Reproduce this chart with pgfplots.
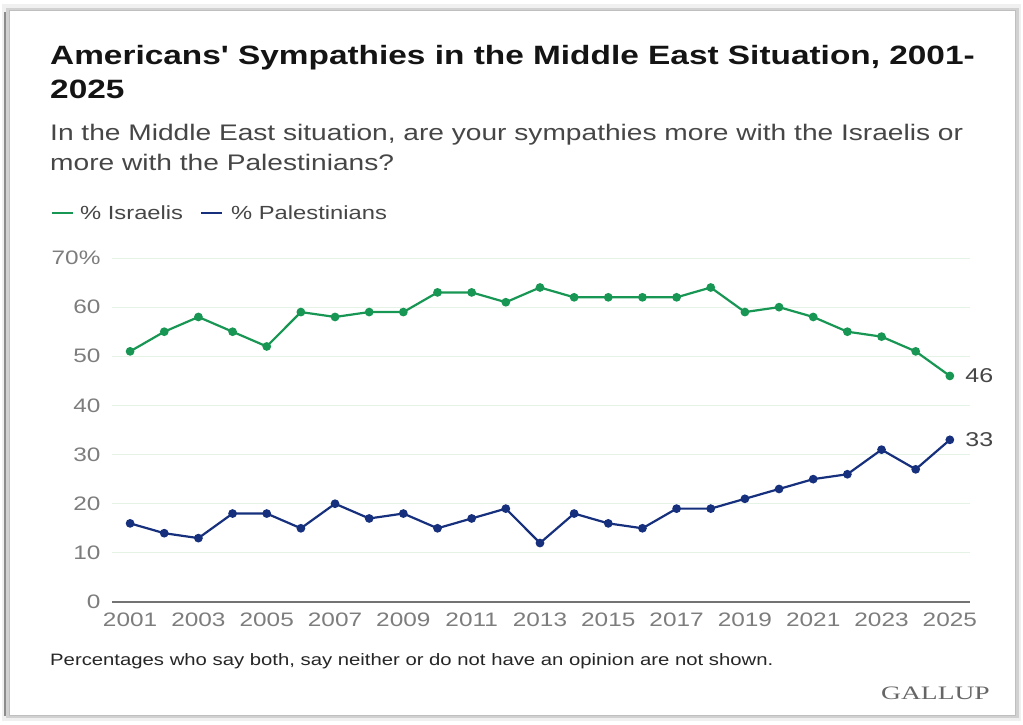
\documentclass[border=0pt]{standalone}
\usepackage{pgfplots}
\pgfplotsset{compat=1.18}
\usepackage{fontspec}
\setmainfont{Liberation Sans}[FakeStretch=1.25]
\newfontfamily\titlefont{Liberation Sans}[FakeStretch=1.26]
\newfontfamily\footfont{Liberation Sans}[FakeStretch=1.23]
\newfontfamily\gallupfont{Liberation Serif}[FakeStretch=1.45]
\definecolor{isr}{RGB}{24,150,84}
\definecolor{pal}{RGB}{22,48,125}
\definecolor{gridc}{RGB}{228,243,230}
\definecolor{ticktext}{RGB}{125,125,125}
\definecolor{subtext}{RGB}{70,70,70}
\begin{document}
\begin{tikzpicture}
\path[use as bounding box] (0pt,0pt) rectangle (1023pt,724pt);
% frame with shadow
\fill[black!6] (2pt,3pt) rectangle (1021pt,720pt);
\fill[black!45] (4pt,8pt) rectangle (12pt,712pt);
\fill[black!18] (6pt,6pt) rectangle (1019pt,716pt);
\fill[white] (9pt,9pt) rectangle (1015pt,713pt);
\draw[black!25, line width=1pt] (9pt,9pt) rectangle (1015pt,713pt);
% title
\node[anchor=base west, inner sep=0, text=black!92, font=\titlefont\bfseries\fontsize{26.5}{30}\selectfont] at (50pt,659pt) {Americans' Sympathies in the Middle East Situation, 2001-};
\node[anchor=base west, inner sep=0, text=black!92, font=\titlefont\bfseries\fontsize{26.5}{30}\selectfont] at (50pt,625pt) {2025};
% subtitle
\node[anchor=base west, inner sep=0, text=subtext, font=\fontsize{22.5}{26}\selectfont] at (50pt,583pt) {In the Middle East situation, are your sympathies more with the Israelis or};
\node[anchor=base west, inner sep=0, text=subtext, font=\fontsize{22.5}{26}\selectfont] at (50pt,553pt) {more with the Palestinians?};
% legend
\draw[isr, line width=2.5pt] (52pt,511pt) -- (73pt,511pt);
\node[anchor=base west, inner sep=0, text=subtext, font=\fontsize{19}{22}\selectfont] at (80pt,504pt) {\% Israelis};
\draw[pal, line width=2.5pt] (201pt,511pt) -- (222pt,511pt);
\node[anchor=base west, inner sep=0, text=subtext, font=\fontsize{19}{22}\selectfont] at (231pt,504pt) {\% Palestinians};
\begin{axis}[
  at={(112pt,122pt)}, anchor=south west,
  scale only axis, width=858pt, height=344pt,
  xmin=2000.47, xmax=2025.59, ymin=0, ymax=70,
  axis line style={draw=none},
  major tick length=0pt,
  ytick={0,10,20,30,40,50,60,70},
  yticklabels={0,10,20,30,40,50,60,70\%},
  xtick={2001,2003,2005,2007,2009,2011,2013,2015,2017,2019,2021,2023,2025},
  xticklabels={2001,2003,2005,2007,2009,2011,2013,2015,2017,2019,2021,2023,2025},
  ymajorgrids, grid style={gridc, line width=1pt},
  tick label style={font=\fontsize{19.5}{22}\selectfont, text=ticktext},
  yticklabel style={xshift=-8pt},
  xticklabel style={yshift=-7pt},
  clip=false,
]
\draw[black!55, line width=1.2pt] (axis cs:2000.47,0) -- (axis cs:2025.59,0);
\addplot[isr, line width=2.2pt, mark=*, mark size=3.2pt] coordinates {
(2001,51) (2002,55) (2003,58) (2004,55) (2005,52) (2006,59) (2007,58) (2008,59) (2009,59) (2010,63) (2011,63) (2012,61) (2013,64) (2014,62) (2015,62) (2016,62) (2017,62) (2018,64) (2019,59) (2020,60) (2021,58) (2022,55) (2023,54) (2024,51) (2025,46)};
\addplot[pal, line width=2.2pt, mark=*, mark size=3.2pt] coordinates {
(2001,16) (2002,14) (2003,13) (2004,18) (2005,18) (2006,15) (2007,20) (2008,17) (2009,18) (2010,15) (2011,17) (2012,19) (2013,12) (2014,18) (2015,16) (2016,15) (2017,19) (2018,19) (2019,21) (2020,23) (2021,25) (2022,26) (2023,31) (2024,27) (2025,33)};
\node[anchor=west, inner sep=0, text=subtext, font=\fontsize{20}{22}\selectfont] at (axis cs:2025.45,46) {46};
\node[anchor=west, inner sep=0, text=subtext, font=\fontsize{20}{22}\selectfont] at (axis cs:2025.45,33) {33};
\end{axis}
% footnote
\node[anchor=base west, inner sep=0, text=black!85, font=\footfont\fontsize{16.5}{20}\selectfont] at (50pt,59pt) {Percentages who say both, say neither or do not have an opinion are not shown.};
\node[anchor=base east, inner sep=0, text=black!60, font=\gallupfont\fontsize{19}{20}\selectfont] at (990pt,25pt) {GALLUP};
\end{tikzpicture}
\end{document}
